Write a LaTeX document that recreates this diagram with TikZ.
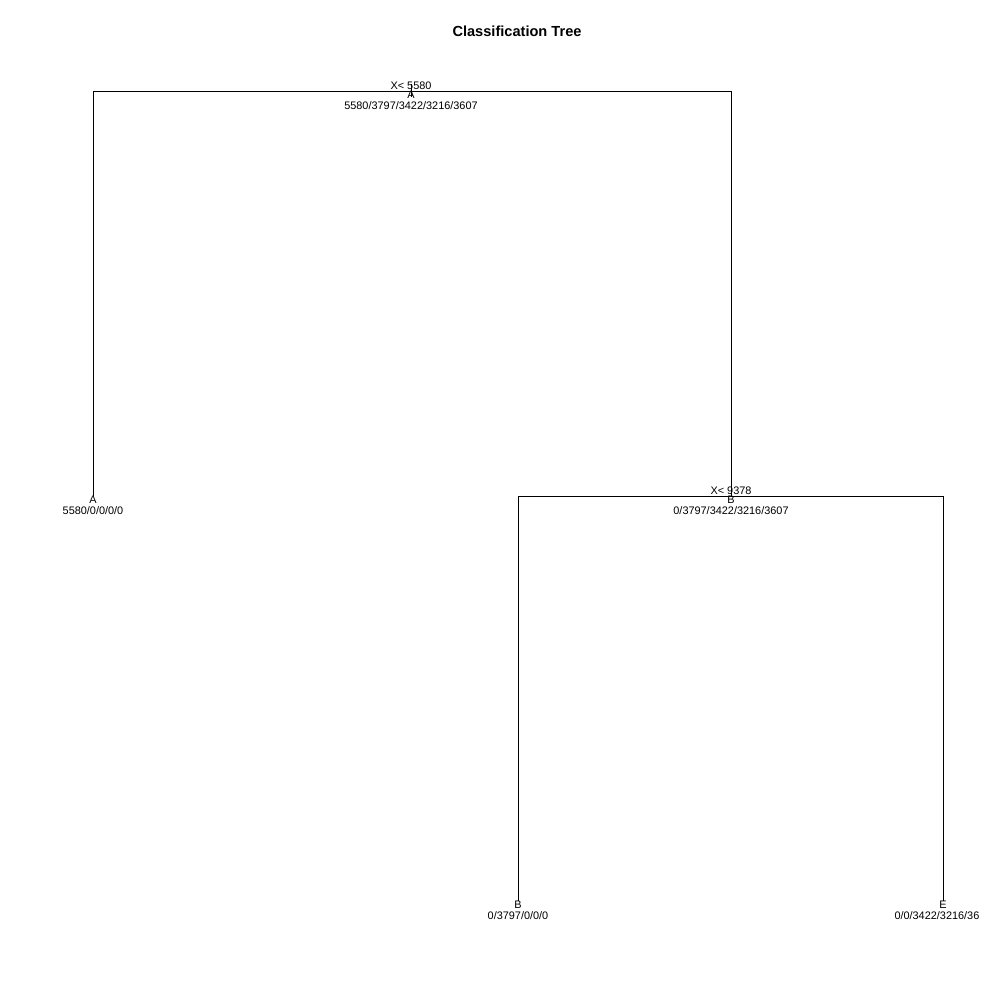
\documentclass[tikz,border=0pt]{standalone}
\usepackage{fontspec}
\setmainfont{Liberation Sans}
\usepackage{tikz}
\usetikzlibrary{positioning,calc}

\begin{document}
\begin{tikzpicture}[
    x=0.01cm, y=-0.01cm,
    edge/.style={draw, line width=0.28pt},
    txt/.style={inner sep=0pt, font=\fontsize{3.1}{3.6}\selectfont},
    split/.style={txt, anchor=base},
    cls/.style={txt, anchor=base},
    counts/.style={txt, anchor=base},
    title/.style={inner sep=0pt, font=\fontsize{4.15}{5}\selectfont\bfseries}
]
    \useasboundingbox (0,0) rectangle (1008,1008);

    \node[title] (ttl) at (517,31) {Classification Tree};

    % tree nodes
    \coordinate (root) at (411,91);
    \coordinate (rootTop) at (411,84);
    \coordinate (rootTip) at (411,97);
    \coordinate (leafA) at (93,496);
    \coordinate (split2) at (731,496);
    \coordinate (leafB) at (518,901);
    \coordinate (leafE) at (943,901);

    % branches
    \draw[edge] (rootTop) -- (rootTip);
    \draw[edge] (leafA) |- (root) -| (split2);
    \draw[edge] (leafB) |- (split2) -| (leafE);

    % labels
    \node[split] (s1) at ($(root)+(0,-2)$) {X< 5580};
    \node[cls] (c1) at ($(root)+(0,7)$) {A};
    \node[counts] (n1) at ($(root)+(0,18)$) {5580/3797/3422/3216/3607};

    \node[cls] (cA) at ($(leafA)+(0,7)$) {A};
    \node[counts] (nA) at ($(leafA)+(0,18)$) {5580/0/0/0/0};

    \node[split] (s2) at ($(split2)+(0,-2)$) {X< 9378};
    \node[cls] (c2) at ($(split2)+(0,7)$) {B};
    \node[counts] (n2) at ($(split2)+(0,18)$) {0/3797/3422/3216/3607};

    \node[cls] (cB) at ($(leafB)+(0,7)$) {B};
    \node[counts] (nB) at ($(leafB)+(0,18)$) {0/3797/0/0/0};

    \begin{scope}
        \clip (0,0) rectangle (978,1008);
        \node[cls] (cE) at ($(leafE)+(0,7)$) {E};
        \node[counts] (nE) at ($(leafE)+(0,18)$) {0/0/3422/3216/3607};
    \end{scope}
\end{tikzpicture}
\end{document}
